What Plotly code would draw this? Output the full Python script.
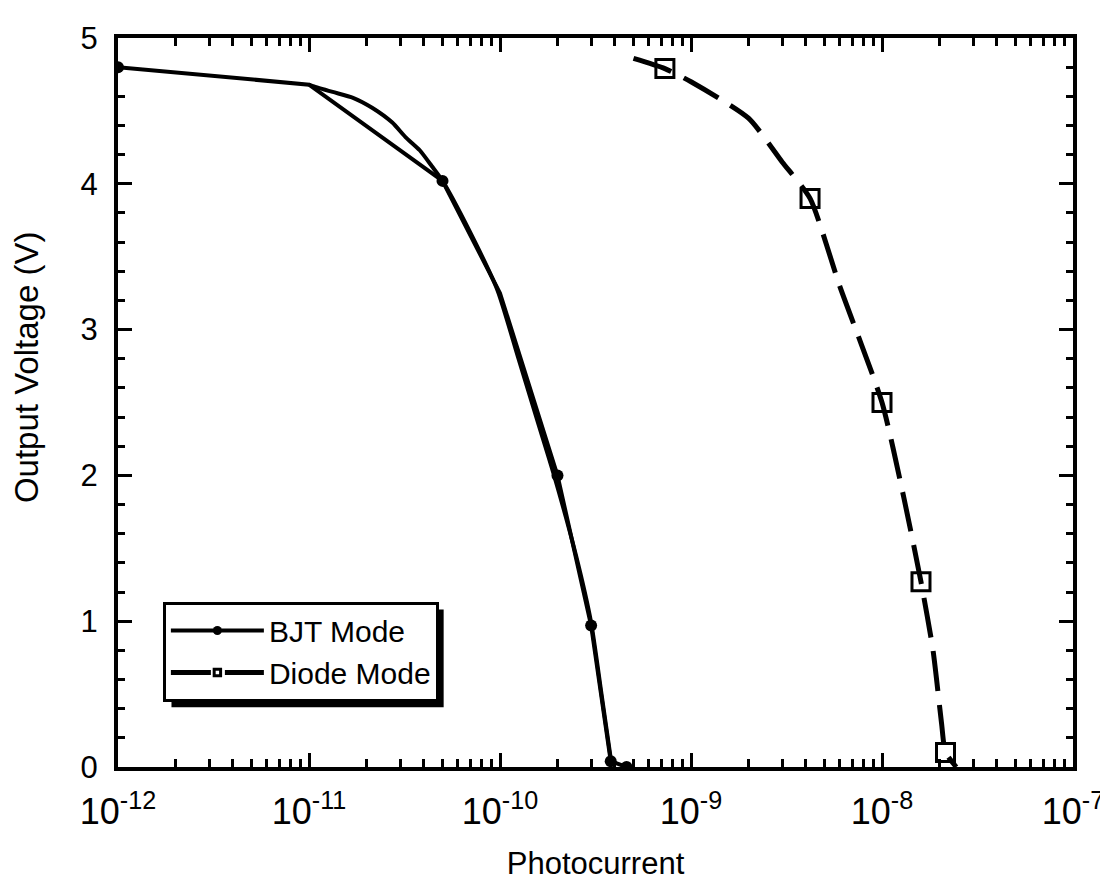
import plotly.graph_objects as go

# BJT mode: measured points (connected by straight segments); marker size 0 = hidden vertex
bjt_x = [1e-12, 1e-11, 5e-11, 1e-10, 2e-10, 3e-10, 3.8e-10, 4.6e-10]
bjt_y = [4.80, 4.68, 4.02, 3.25, 2.00, 0.97, 0.04, 0.0]
bjt_msize = [12, 0, 12, 0, 12, 12, 12, 12]
# BJT mode: smooth fitted curve
bjt_fit_x = [1e-11, 1.05e-11, 1.33e-11, 1.7e-11, 2.15e-11, 2.73e-11, 3.2e-11, 3.8e-11, 4.4e-11, 5e-11,
             6.9e-11, 9.7e-11, 1.25e-10, 1.6e-10, 1.9e-10, 2.5e-10, 3e-10, 3.4e-10, 3.8e-10]
bjt_fit_y = [4.68, 4.67, 4.63, 4.59, 4.52, 4.42, 4.32, 4.23, 4.12, 4.02,
             3.68, 3.27, 2.80, 2.34, 2.02, 1.45, 0.99, 0.50, 0.06]

# Diode mode (marker size 0 = no marker at that vertex)
diode_x = [5e-10, 7.3e-10, 1e-9, 2e-9, 3e-9, 4.2e-9, 6e-9, 1e-8, 1.3e-8, 1.6e-8, 1.85e-8, 2.05e-8, 2.15e-8, 2.45e-8]
diode_y = [4.86, 4.79, 4.70, 4.45, 4.15, 3.90, 3.30, 2.50, 1.85, 1.27, 0.80, 0.30, 0.10, 0.0]
diode_msize = [0, 18, 0, 0, 0, 18, 0, 18, 0, 18, 0, 0, 18, 0]

x_tickvals = [1e-12, 1e-11, 1e-10, 1e-9, 1e-8, 1e-7]
x_ticktext = ["10<sup>-12</sup>", "10<sup>-11</sup>", "10<sup>-10</sup>",
              "10<sup>-9</sup>", "10<sup>-8</sup>", "10<sup>-7</sup>"]
y_tickvals = [0, 1, 2, 3, 4, 5]

FONT = "Liberation Sans, Arial, sans-serif"

fig = go.Figure()
fig.add_trace(go.Scatter(x=bjt_fit_x, y=bjt_fit_y, mode="lines",
                         line=dict(color="black", width=4, shape="spline", smoothing=0.6),
                         showlegend=False, hoverinfo="skip"))
fig.add_trace(go.Scatter(x=bjt_x, y=bjt_y, mode="lines+markers", name="BJT Mode",
                         line=dict(color="black", width=4),
                         marker=dict(symbol="circle", size=bjt_msize, color="black", opacity=1,
                                     line=dict(width=0))))
fig.add_trace(go.Scatter(x=diode_x, y=diode_y, mode="lines+markers", name="Diode Mode",
                         line=dict(color="black", width=5, dash="40px,14px", shape="spline", smoothing=0.6),
                         marker=dict(symbol="square-open", size=diode_msize, color="black", opacity=1,
                                     line=dict(width=3, color="black"))))

# legend drop shadow (paper coordinates), drawn below the legend box
fig.add_shape(type="rect", xref="paper", yref="paper",
              x0=0.056, x1=0.341, y0=0.082, y1=0.216,
              fillcolor="black", line=dict(width=0), layer="below")

# y-axis title placed as in the original (centred above the axis middle)
fig.add_annotation(text="Output Voltage (V)", xref="paper", yref="paper",
                   x=-0.096, y=0.549, xanchor="center", yanchor="middle",
                   textangle=-90, showarrow=False,
                   font=dict(family=FONT, size=33, color="black"))

fig.update_layout(
    width=1108, height=880,
    margin=dict(l=110, r=40, t=30, b=118),
    paper_bgcolor="white", plot_bgcolor="white",
    font=dict(family=FONT, color="black"),
    legend=dict(x=0.047, y=0.227, xanchor="left", yanchor="top",
                bgcolor="white", bordercolor="black", borderwidth=3,
                font=dict(family=FONT, size=30, color="black"), tracegroupgap=0,
                itemwidth=93, itemsizing="trace"),
    xaxis=dict(type="log", range=[-12, -7],
               tickvals=x_tickvals, ticktext=x_ticktext,
               ticks="inside", ticklen=14, tickwidth=3, tickcolor="black",
               showline=True, linewidth=4, linecolor="black", mirror="ticks",
               showgrid=False, zeroline=False, ticklabelstandoff=10,
               tickfont=dict(family=FONT, size=36, color="black"),
               minor=dict(ticks="inside", ticklen=8, tickwidth=3, tickcolor="black",
                          dtick="D1", showgrid=False),
               title=dict(text="Photocurrent", font=dict(family=FONT, size=31, color="black"), standoff=22)),
    yaxis=dict(range=[0, 5], tickvals=y_tickvals,
               ticks="inside", ticklen=14, tickwidth=3, tickcolor="black",
               showline=True, linewidth=4, linecolor="black", mirror="ticks",
               showgrid=False, zeroline=False, ticklabelstandoff=10,
               tickfont=dict(family=FONT, size=31, color="black"),
               minor=dict(ticks="inside", ticklen=7, tickwidth=3, tickcolor="black",
                          dtick=0.2, showgrid=False)),
)

fig.write_html("out.html")
